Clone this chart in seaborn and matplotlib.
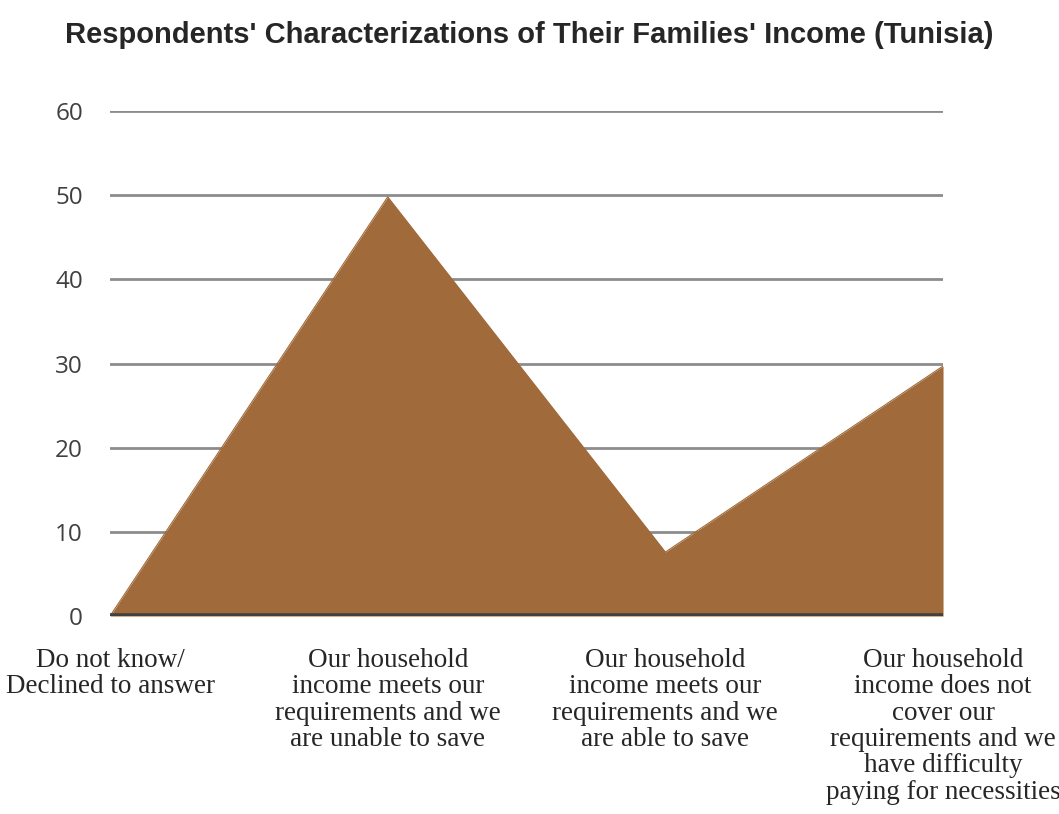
import pandas as pd
import seaborn as sns
import matplotlib.pyplot as plt

TITLE = "Respondents' Characterizations of Their Families' Income (Tunisia)"
categories = [
    "Do not know/\nDeclined to answer",
    "Our household\nincome meets our\nrequirements and we\nare unable to save",
    "Our household\nincome meets our\nrequirements and we\nare able to save",
    "Our household\nincome does not\ncover our\nrequirements and we\nhave difficulty\npaying for necessities",
]
values = [0, 49.8, 7.6, 29.7]
y_ticks = [0, 10, 20, 30, 40, 50, 60]

AREA_COLOR = "#A06A3A"
GRID_COLOR = "#8C8C8C"
BASE_COLOR = "#404040"

df = pd.DataFrame({"pos": range(len(categories)), "value": values})

sns.set_theme(style="white")
fig = plt.figure(figsize=(10.59, 8.14), dpi=100)
ax = fig.add_axes([0.1039, 0.2432, 0.7866, 0.6204])

for t in y_ticks[1:]:
    ax.axhline(t, color=GRID_COLOR, lw=2, zorder=1)

ax.fill_between(df["pos"], df["value"], 0, color=AREA_COLOR, lw=0, zorder=2)
sns.lineplot(data=df, x="pos", y="value", color=AREA_COLOR, lw=0.8, ax=ax, zorder=2)
ax.axhline(0, color=BASE_COLOR, lw=4, zorder=3)

ax.set_xlim(0, len(categories) - 1)
ax.set_ylim(0, 60)
ax.set_yticks(y_ticks)
ax.set_yticklabels([str(t) for t in y_ticks], fontsize=17.5, color="#404040",
                   family="Open Sans")
ax.tick_params(axis="y", length=0, pad=19.5)
ax.set_xticks(df["pos"])
ax.set_xticklabels(categories, fontsize=19.5, family="Liberation Serif",
                   linespacing=1.07, va="top")
ax.tick_params(axis="x", length=0, pad=23)
ax.set_xlabel("")
ax.set_ylabel("")
for s in ax.spines.values():
    s.set_visible(False)

fig.text(0.5, 0.957, TITLE, ha="center", va="center", fontsize=21,
         fontweight="bold", family="Liberation Sans")

fig.savefig("out.png", dpi=100)
